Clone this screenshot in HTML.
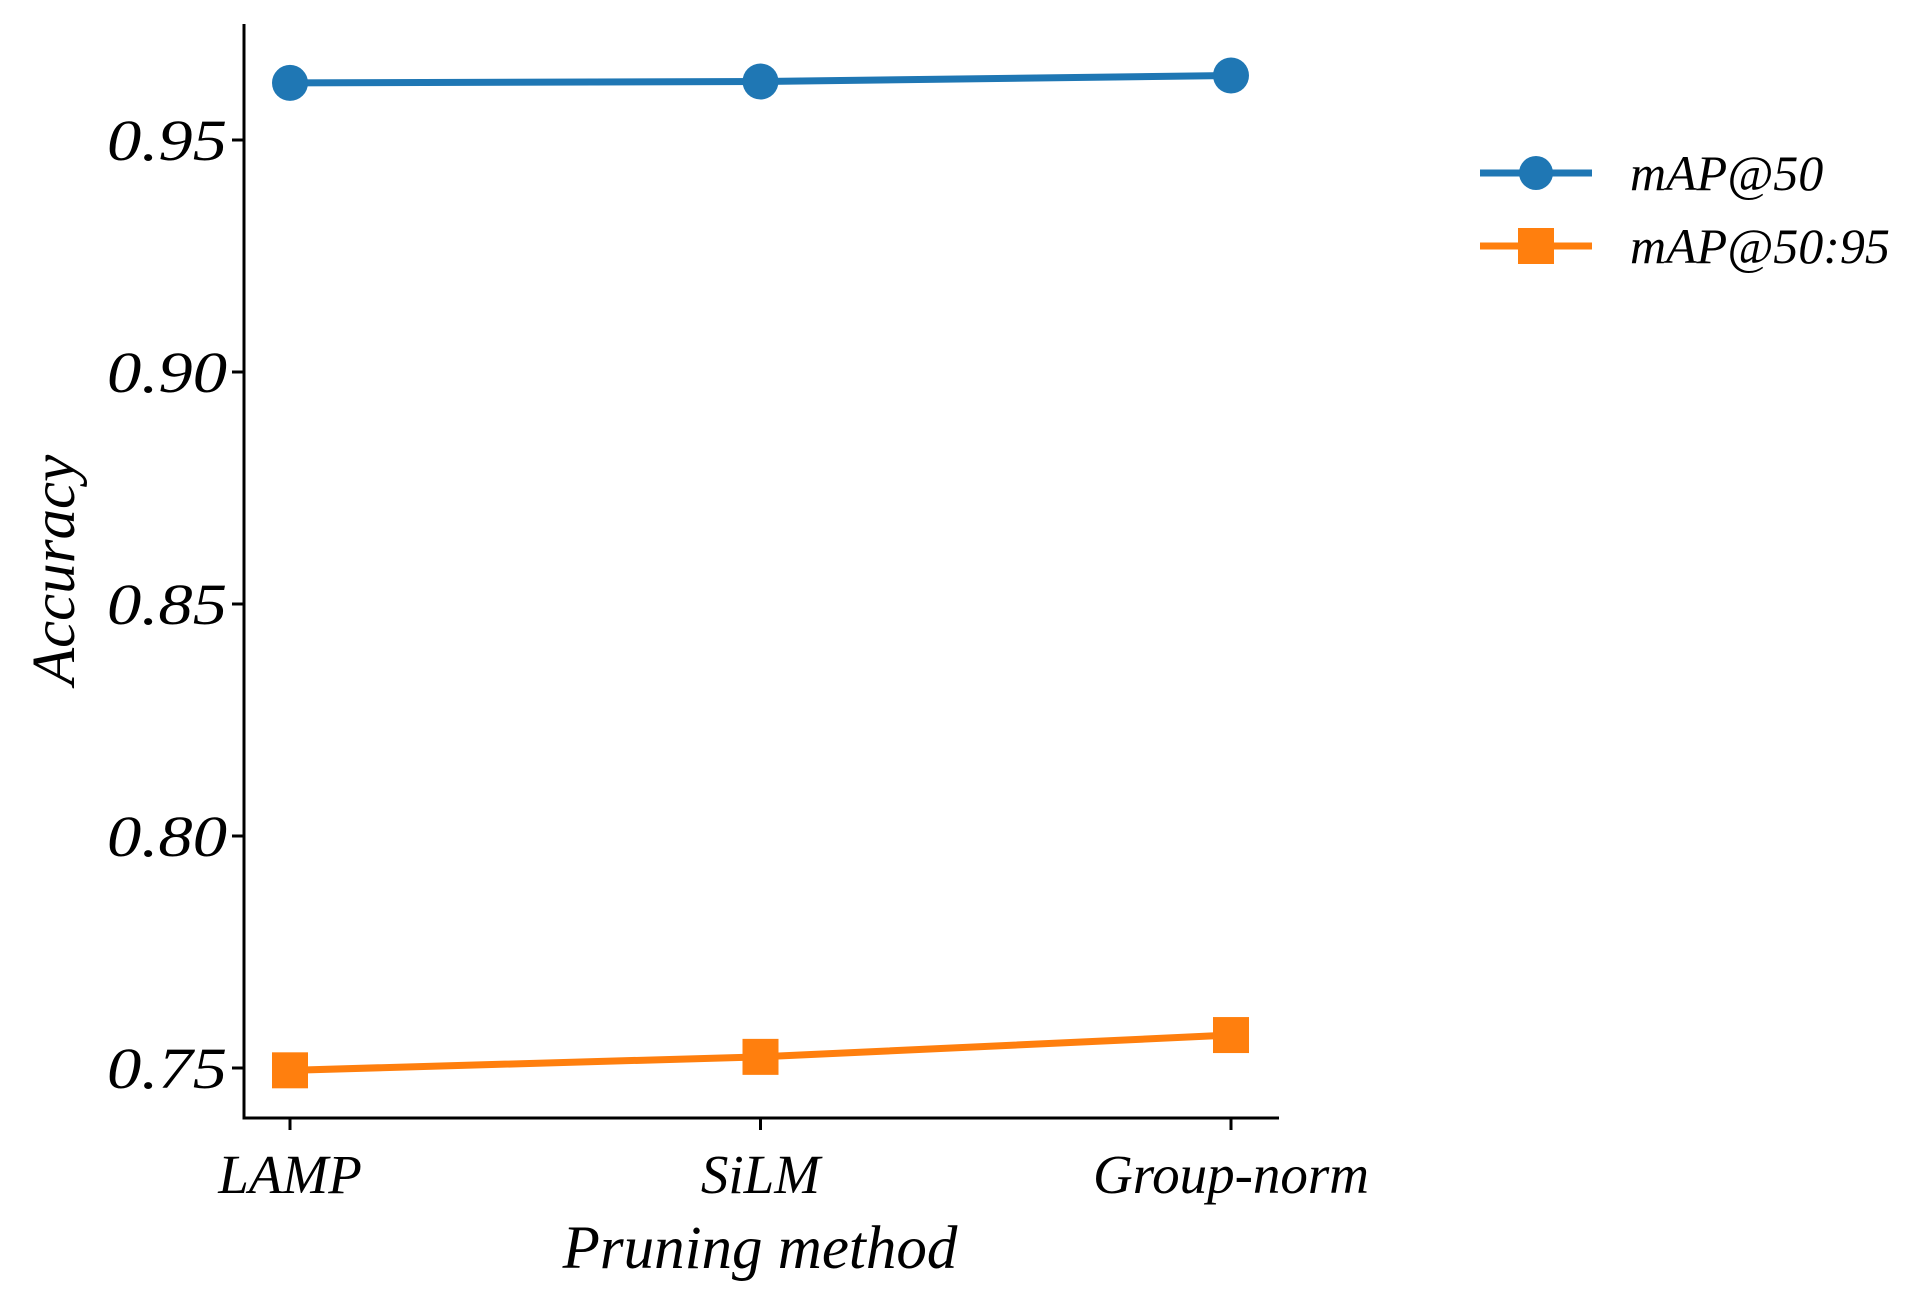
<!DOCTYPE html>
<html><head><meta charset="utf-8"><style>
html,body{margin:0;padding:0;background:#fff}
svg{display:block}
text{font-family:"Liberation Serif",serif;font-style:italic;fill:#000}
</style></head><body>
<svg id="chart" width="1910" height="1295" viewBox="0 0 1910 1295" xmlns="http://www.w3.org/2000/svg">
<g id="plot"></g>
</svg>
<script>
const categories = ["LAMP", "SiLM", "Group-norm"];
const map50 = [0.9623, 0.9626, 0.9639];
const map5095 = [0.7495, 0.7524, 0.7571];
const yTicks = [0.75, 0.80, 0.85, 0.90, 0.95];
const yTickLabels = ["0.75", "0.80", "0.85", "0.90", "0.95"];

const NS = "http://www.w3.org/2000/svg";
const g = document.getElementById('plot');
const axL = 244, axR = 1279, axT = 24, axB = 1118;
function y(v){ return 1068 + (0.75 - v) / 0.05 * 232; }
function x(i){ return 290 + i * 470.5; }
function el(tag, attrs, parent){
  const e = document.createElementNS(NS, tag);
  for (const k in attrs) e.setAttribute(k, attrs[k]);
  (parent || g).appendChild(e);
  return e;
}
const ya = el('line', {x1:axL, y1:axT, x2:axL, y2:axB+1.5, stroke:'#000', 'stroke-width':3});


const xa = el('line', {x1:axL-1.5, y1:axB, x2:axR, y2:axB, stroke:'#000', 'stroke-width':3});


yTicks.forEach((t, i) => {
  const tk = el('line', {x1:axL-12, y1:y(t), x2:axL, y2:y(t), stroke:'#000', 'stroke-width':3});
  
  
  const tl = el('text', {x:axL-17, y:y(t)+20, 'font-size':58, 'text-anchor':'end', textLength:120, lengthAdjust:'spacingAndGlyphs'});
  
  
  tl.textContent = yTickLabels[i];
});
categories.forEach((c, i) => {
  const tk = el('line', {x1:x(i), y1:axB, x2:x(i), y2:axB+12, stroke:'#000', 'stroke-width':3});
  
  
  const tl = el('text', {x:x(i), y:1193, 'font-size':55, 'text-anchor':'middle'});
  
  
  tl.textContent = c;
});
const xt = el('text', {x:760, y:1268, 'font-size':61, 'text-anchor':'middle'});


xt.textContent = 'Pruning method';
const yt = el('text', {x:0, y:0, 'font-size':61, 'text-anchor':'middle', transform:'translate(74,570) rotate(-90)'});


yt.textContent = 'Accuracy';
const blue = '#1f77b4', orange = '#ff7f0e';
const l1 = el('polyline', {points: map50.map((v,i)=>x(i)+','+y(v)).join(' '), fill:'none', stroke:blue, 'stroke-width':7});


map50.forEach((v,i)=>{
  const p = el('circle', {cx:x(i), cy:y(v), r:18, fill:blue});
  
  
});
const l2 = el('polyline', {points: map5095.map((v,i)=>x(i)+','+y(v)).join(' '), fill:'none', stroke:orange, 'stroke-width':7});


map5095.forEach((v,i)=>{
  const p = el('rect', {x:x(i)-18, y:y(v)-18, width:36, height:36, fill:orange});
  
  
});
const lg = el('g', {});


const e1 = el('g', {}, lg);


el('line', {x1:1480, y1:173, x2:1592, y2:173, stroke:blue, 'stroke-width':7}, e1);
el('circle', {cx:1536, cy:173, r:17, fill:blue}, e1);
const t1 = el('text', {x:1630, y:190, 'font-size':50}, e1);
t1.textContent = 'mAP@50';
const e2 = el('g', {}, lg);


el('line', {x1:1480, y1:246, x2:1592, y2:246, stroke:orange, 'stroke-width':7}, e2);
el('rect', {x:1518, y:228, width:36, height:36, fill:orange}, e2);
const t2 = el('text', {x:1630, y:263, 'font-size':50}, e2);
t2.textContent = 'mAP@50:95';
</script>
</body></html>
